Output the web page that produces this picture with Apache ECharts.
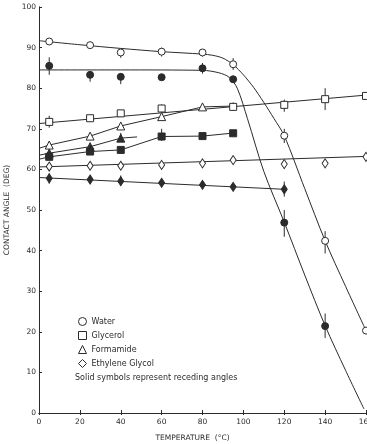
<!DOCTYPE html>
<html>
<head>
<meta charset="utf-8">
<script src="https://cdn.jsdelivr.net/npm/echarts@6/dist/echarts.min.js"></script>
<style>
  html, body { margin: 0; padding: 0; background: #fff; }
  #chart { width: 367px; height: 444px; }
</style>
</head>
<body>
<div id="chart"></div>
<script>
// Axis ticks
const xTicks = [0, 20, 40, 60, 80, 100, 120, 140, 160];
const yTicks = [0, 10, 20, 30, 40, 50, 60, 70, 80, 90, 100];

// Measured contact angles [temperature °C, angle deg]
const waterAdv = [[5, 91.5], [25, 90.6], [40, 88.8], [60, 89.0], [80, 88.8], [95, 85.9], [120, 68.3], [140, 42.4], [160, 20.3]];
const waterRec = [[5, 85.5], [25, 83.3], [40, 82.8], [60, 82.7], [80, 84.9], [95, 82.2], [120, 46.9], [140, 21.4]];
const glycerolAdv = [[5, 71.7], [25, 72.6], [40, 73.8], [60, 75.0], [95, 75.4], [120, 75.9], [140, 77.3], [160, 78.1]];
const glycerolRec = [[5, 63.1], [25, 64.4], [40, 64.8], [60, 68.1], [80, 68.2], [95, 68.9]];
const formamideAdv = [[5, 66.0], [25, 68.2], [40, 70.7], [60, 73.0], [80, 75.4]];
const formamideRec = [[5, 64.0], [25, 65.6], [40, 67.7]];
const glycolAdv = [[5, 60.7], [25, 60.9], [40, 60.9], [60, 61.1], [80, 61.5], [95, 62.3], [120, 61.3], [140, 61.5], [160, 63.1]];
const glycolRec = [[5, 57.8], [25, 57.5], [40, 57.1], [60, 56.7], [80, 56.2], [95, 55.7], [120, 55.1]];

// Drawn trend curves
const waterAdvFit = [[0, 91.7], [20, 90.7], [40, 89.8], [60, 89.0], [80, 88.4], [85, 88.1], [90, 87.4], [95, 85.8], [100, 83.3], [105, 80.2], [110, 76.5], [115, 72.5], [120, 68.3], [130, 55.3], [140, 42.4], [150, 31.2], [160, 20.3]];
const waterRecFit = [[0, 84.5], [40, 84.5], [80, 84.4], [88, 83.8], [93, 82.7], [97, 80.0], [102, 72.5], [110, 59.5], [120, 47.0], [130, 34.0], [140, 21.5], [150, 10.5], [159, 1.0]];
const glycerolAdvFit = [[0, 71.3], [160, 78.3]];
const glycerolRecFit = [[0, 62.5], [5, 63.1], [25, 64.4], [40, 64.8], [60, 68.1], [80, 68.2], [96, 69.0]];
const formamideAdvFit = [[0, 65.2], [5, 66.0], [25, 68.2], [40, 70.7], [60, 73.0], [80, 75.4], [95, 75.6]];
const formamideRecFit = [[0, 63.5], [5, 64.0], [25, 65.6], [40, 67.7], [48, 68.0]];
const glycolAdvFit = [[0, 60.6], [160, 63.2]];
const glycolRecFit = [[0, 58.0], [120, 55.1]];

// Scatter bars [temperature, low, high]
const errorBars = [
  [40, 87.5, 89.5], [60, 87.8, 90.0], [80, 87.8, 89.6], [95, 84.5, 87.4], [120, 66.5, 70.0], [140, 39.3, 44.8],
  [5, 83.3, 87.6], [25, 81.6, 84.0], [40, 81.0, 83.5], [80, 83.6, 86.2], [120, 43.4, 50.0], [140, 18.5, 24.5],
  [5, 70.3, 73.2], [60, 74.0, 76.0], [95, 74.5, 76.5], [120, 74.2, 77.2], [140, 74.6, 80.0],
  [60, 67.0, 70.0], [40, 66.8, 69.0],
  [5, 56.5, 59.0], [40, 56.0, 58.5], [120, 53.3, 57.0]
];

const INK = '#2b2b2b';
const FONT = 'DejaVu Sans';

function fitLine(data, extra) {
  return Object.assign({
    type: 'line', data: data, showSymbol: false, symbol: 'none', smooth: false,
    lineStyle: { color: INK, width: 1 }, silent: true, z: 2, legendHoverLink: false
  }, extra || {});
}
function marks(name, data, symbol, size, filled) {
  return {
    name: name, type: 'scatter', data: data, symbol: symbol, symbolSize: size, z: 5,
    itemStyle: { color: filled ? INK : '#fff', borderColor: INK, borderWidth: 1, opacity: 1 }
  };
}

const chart = echarts.init(document.getElementById('chart'), null, { renderer: 'canvas' });
chart.setOption({
  animation: false,
  backgroundColor: '#fff',
  grid: { left: 39, right: 1, top: 7, bottom: 31, containLabel: false, outerBoundsMode: 'none' },
  legend: {
    orient: 'vertical', left: 73, top: 312,
    itemWidth: 8, itemHeight: 8, itemGap: 5,
    data: ['Water', 'Glycerol', 'Formamide', 'Ethylene Glycol'],
    textStyle: { fontFamily: FONT, fontSize: 8, color: INK },
    itemStyle: { color: '#fff', borderColor: INK, borderWidth: 1 },
    selectedMode: false
  },
  graphic: [{
    type: 'text', left: 75, top: 374,
    style: { text: 'Solid symbols represent receding angles', font: '8px "DejaVu Sans"', fill: INK }
  }],
  xAxis: [{
    type: 'value', min: 0, max: 160, interval: 20,
    name: 'TEMPERATURE  (°C)', nameLocation: 'middle', nameGap: 21,
    nameTextStyle: { fontFamily: FONT, fontSize: 7.5, color: INK, padding: [0, 20, 0, 0] },
    axisLine: { lineStyle: { color: INK, width: 1 } },
    axisTick: { inside: true, length: 3, lineStyle: { color: INK } },
    axisLabel: { fontFamily: FONT, fontSize: 7.5, color: INK, margin: 5,
      formatter: v => xTicks.includes(v) ? String(v) : '' },
    splitLine: { show: false }
  }, {
    type: 'value', min: 0, max: 160, interval: 20, position: 'top',
    axisLine: { lineStyle: { color: INK, width: 1 } },
    axisTick: { inside: true, length: 2, lineStyle: { color: INK } },
    axisLabel: { show: false }, splitLine: { show: false }
  }],
  yAxis: [{
    type: 'value', min: 0, max: 100, interval: 10,
    name: 'CONTACT ANGLE  (DEG)', nameLocation: 'middle', nameGap: 23, nameRotate: 90,
    nameTextStyle: { fontFamily: FONT, fontSize: 7.5, color: INK },
    axisLine: { lineStyle: { color: INK, width: 1 } },
    axisTick: { inside: true, length: 3, lineStyle: { color: INK } },
    axisLabel: { fontFamily: FONT, fontSize: 7.5, color: INK, margin: 3,
      formatter: v => yTicks.includes(v) ? String(v) : '' },
    splitLine: { show: false }
  }, {
    type: 'value', min: 0, max: 100, interval: 10, position: 'right',
    axisLine: { show: true, lineStyle: { color: INK, width: 1 } },
    axisTick: { show: false }, axisLabel: { show: false }, splitLine: { show: false }
  }],
  series: [
    fitLine(waterAdvFit, { smooth: 0.3 }),
    fitLine(waterRecFit, { smooth: 0.3 }),
    fitLine(glycerolAdvFit),
    fitLine(glycerolRecFit),
    fitLine(formamideAdvFit),
    fitLine(formamideRecFit),
    fitLine(glycolAdvFit),
    fitLine(glycolRecFit),
    {
      type: 'custom', data: errorBars, z: 3, silent: true,
      encode: { x: 0, y: [1, 2] },
      renderItem: function (params, api) {
        const hi = api.coord([api.value(0), api.value(2)]);
        const lo = api.coord([api.value(0), api.value(1)]);
        return { type: 'line', shape: { x1: hi[0], y1: hi[1], x2: lo[0], y2: lo[1] },
                 style: { stroke: INK, lineWidth: 1 } };
      }
    },
    marks('Water', waterAdv, 'circle', 7, false),
    marks('Water receding', waterRec, 'circle', 7, true),
    marks('Glycerol', glycerolAdv, 'rect', 7, false),
    marks('Glycerol receding', glycerolRec, 'rect', 7, true),
    marks('Formamide', formamideAdv, 'triangle', 8, false),
    marks('Formamide receding', formamideRec, 'triangle', 8, true),
    marks('Ethylene Glycol', glycolAdv, 'diamond', [6, 9], false),
    marks('Ethylene Glycol receding', glycolRec, 'diamond', [6, 9], true)
  ]
});
</script>
</body>
</html>
